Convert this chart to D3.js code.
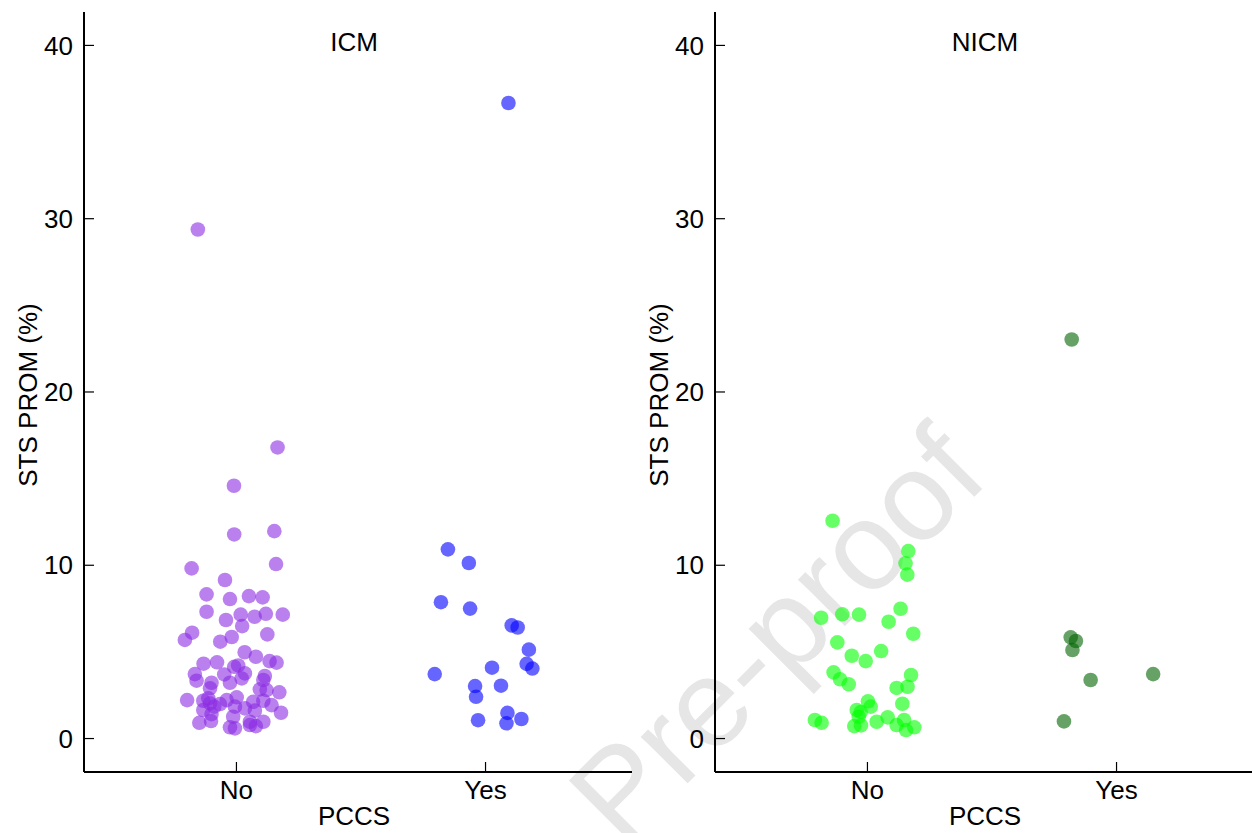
<!DOCTYPE html>
<html>
<head>
<meta charset="utf-8">
<script src="https://cdn.jsdelivr.net/npm/d3@7"></script>
<style>
  html, body { margin: 0; padding: 0; background: #fff; }
  text { font-family: "Liberation Sans", Arial, sans-serif; }
</style>
</head>
<body>
<svg id="chart" width="1252" height="833"></svg>
<script>
// ---------------- data ----------------
const categories = ["No", "Yes"];
const panels = ["ICM", "NICM"];
const yTicks = [0, 10, 20, 30, 40];
const yLabel = "STS PROM (%)";
const xLabel = "PCCS";
const watermark = "Pre-proof";

// ICM, PCCS = No
const icmNoValues = [16.77, 14.56, 11.75, 11.94, 9.79, 10.04, 9.12, 8.29, 8.02, 8.19, 8.12, 7.29, 6.81, 7.12, 7.0, 7.17, 7.12, 6.46, 6.08, 5.66, 5.98, 5.83, 5.56, 4.95, 4.69, 4.29, 4.37, 4.44, 4.35, 4.11, 4.19, 3.69, 3.31, 3.19, 3.67, 3.19, 3.73, 3.44, 3.58, 3.35, 2.87, 2.81, 2.77, 2.64, 2.19, 2.15, 2.0, 1.96, 2.19, 2.35, 2.09, 2.15, 1.90, 1.81, 1.71, 1.62, 1.81, 1.58, 1.46, 1.38, 1.23, 0.88, 0.98, 0.94, 0.94, 0.62, 0.56, 0.75, 0.69, 2.29, 29.35];
const icmNoJitter = [0.167, -0.008, -0.007, 0.154, -0.178, 0.161, -0.044, -0.118, -0.024, 0.052, 0.107, -0.118, -0.040, 0.019, 0.075, 0.120, 0.188, 0.025, -0.176, -0.205, 0.126, -0.017, -0.063, 0.035, 0.080, -0.130, -0.076, 0.135, 0.163, -0.007, 0.009, -0.165, -0.158, -0.098, -0.047, -0.024, 0.036, 0.023, 0.116, 0.110, -0.104, 0.096, 0.123, 0.174, -0.196, -0.131, -0.104, -0.064, -0.037, 0.003, 0.069, 0.110, 0.143, -0.004, 0.036, -0.131, -0.087, 0.076, 0.181, -0.098, -0.011, -0.147, -0.100, 0.056, 0.110, -0.024, -0.004, 0.056, 0.080, -0.111, -0.153];

// ICM, PCCS = Yes
const icmYesValues = [36.65, 10.89, 10.10, 7.84, 7.47, 6.50, 6.38, 5.10, 4.28, 4.01, 3.69, 4.06, 3.0, 3.02, 2.38, 1.03, 1.45, 0.85, 1.10];
const icmYesJitter = [0.094, -0.149, -0.065, -0.177, -0.060, 0.107, 0.131, 0.176, 0.167, 0.190, -0.202, 0.028, -0.040, 0.064, -0.036, -0.028, 0.090, 0.086, 0.146];

// NICM, PCCS = No
const nicmNoValues = [12.54, 10.79, 10.08, 9.43, 6.94, 7.14, 7.12, 7.46, 6.71, 6.02, 5.52, 4.75, 4.44, 5.02, 3.79, 3.39, 3.10, 3.64, 2.89, 2.96, 1.98, 2.12, 1.62, 1.50, 1.81, 1.23, 1.04, 0.88, 0.94, 1.19, 0.69, 0.73, 0.75, 1.04, 0.46, 0.62];
const nicmNoJitter = [-0.138, 0.166, 0.155, 0.162, -0.184, -0.099, -0.032, 0.135, 0.087, 0.186, -0.119, -0.061, -0.005, 0.057, -0.134, -0.108, -0.073, 0.177, 0.119, 0.163, 0.142, 0.004, -0.041, -0.025, 0.015, -0.033, -0.209, -0.182, 0.039, 0.083, -0.051, -0.024, 0.119, 0.149, 0.157, 0.190];

// NICM, PCCS = Yes
const nicmYesValues = [23.0, 5.81, 5.60, 5.08, 3.35, 3.69, 0.96];
const nicmYesJitter = [-0.178, -0.182, -0.161, -0.175, -0.102, 0.149, -0.209];

const groupColors = { "ICM-No": "#8a2be2", "ICM-Yes": "#0000ff", "NICM-No": "#00ff00", "NICM-Yes": "#006400" };

// ---------------- drawing ----------------
const svg = d3.select("#chart");

// watermark (behind everything)
svg.append("text")
  .attr("transform", "translate(991,480) rotate(-45)")
  .attr("text-anchor", "end")
  .attr("font-size", 125)
  .attr("fill", "#e6e6e6")
  .text(watermark);

const y = d3.scaleLinear().domain([-1.96, 41.9]).range([772, 12]);

const panelDefs = [
  { name: panels[0], left: 84, groups: [
      { cat: "No", values: icmNoValues, jitter: icmNoJitter, color: groupColors["ICM-No"] },
      { cat: "Yes", values: icmYesValues, jitter: icmYesJitter, color: groupColors["ICM-Yes"] } ] },
  { name: panels[1], left: 715, groups: [
      { cat: "No", values: nicmNoValues, jitter: nicmNoJitter, color: groupColors["NICM-No"] },
      { cat: "Yes", values: nicmYesValues, jitter: nicmYesJitter, color: groupColors["NICM-Yes"] } ] }
];

const fontTick = 26;
const ff = '"Liberation Sans", Arial, sans-serif';

panelDefs.forEach(p => {
  const g = svg.append("g");
  const x = d3.scaleLinear().domain([0.39, 2.59]).range([p.left, p.left + 548]);
  const catIndex = c => categories.indexOf(c) + 1;

  // points
  p.groups.forEach(gr => {
    const pts = gr.values.map((v, i) => ({ v, j: gr.jitter[i] }));
    g.append("g").selectAll("circle").data(pts).join("circle")
      .attr("cx", d => x(catIndex(gr.cat) + d.j))
      .attr("cy", d => y(d.v))
      .attr("r", 7.3)
      .attr("fill", gr.color)
      .attr("fill-opacity", 0.6);
  });

  // y axis
  const yAxis = d3.axisRight(y).tickValues(yTicks).tickSize(10).tickFormat(d3.format("d"));
  const ya = g.append("g").attr("transform", `translate(${p.left},0)`).call(yAxis);
  ya.select(".domain").attr("d", `M0,12V772`).attr("stroke", "#000").attr("stroke-width", 2);
  ya.selectAll(".tick line").attr("stroke", "#000").attr("stroke-width", 1.2);
  ya.selectAll(".tick text").attr("x", -11).attr("text-anchor", "end")
    .attr("font-size", fontTick).attr("fill", "#000").attr("dy", "0.35em")
    .style("font-family", ff);

  // x axis
  const xAxis = d3.axisTop(x).tickValues([1, 2]).tickSize(10).tickFormat(d => categories[d - 1]);
  const xa = g.append("g").attr("transform", `translate(0,772)`).call(xAxis);
  xa.select(".domain").attr("d", `M${p.left},0H${p.left + 548}`).attr("stroke", "#000").attr("stroke-width", 2);
  xa.selectAll(".tick line").attr("stroke", "#000").attr("stroke-width", 1.2);
  xa.selectAll(".tick text").attr("y", 27).attr("dy", 0).attr("text-anchor", "middle")
    .attr("font-size", fontTick).attr("fill", "#000")
    .style("font-family", ff);

  // panel title
  g.append("text").attr("x", p.left + 270).attr("y", 51).attr("text-anchor", "middle")
    .attr("font-size", 26).attr("fill", "#000").text(p.name);

  // axis titles
  g.append("text").attr("x", p.left + 270).attr("y", 825).attr("text-anchor", "middle")
    .attr("font-size", 26).attr("fill", "#000").text(xLabel);
  g.append("text").attr("transform", `translate(${p.left - 47},395) rotate(-90)`)
    .attr("text-anchor", "middle").attr("font-size", 26).attr("fill", "#000").text(yLabel);
});
</script>
</body>
</html>
